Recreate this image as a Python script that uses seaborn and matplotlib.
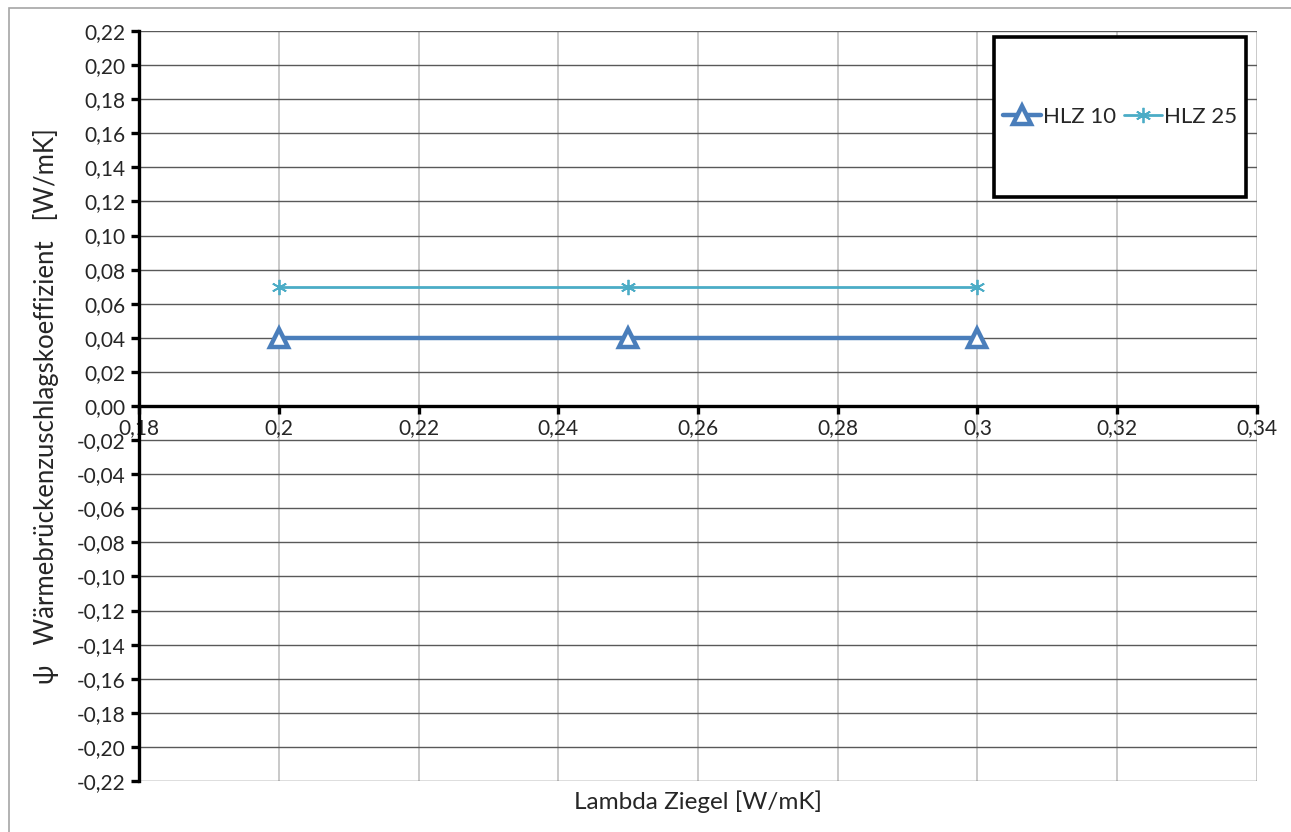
import numpy as np
import pandas as pd
import seaborn as sns
import matplotlib.pyplot as plt
from matplotlib.patches import Rectangle
from matplotlib.ticker import FixedLocator, FuncFormatter

# data
lambda_ziegel = [0.2, 0.25, 0.3]
hlz10 = [0.04, 0.04, 0.04]
hlz25 = [0.07, 0.07, 0.07]
x_ticks = [0.18, 0.20, 0.22, 0.24, 0.26, 0.28, 0.30, 0.32, 0.34]
x_tick_labels = ['0,18', '0,2', '0,22', '0,24', '0,26', '0,28', '0,3', '0,32', '0,34']
y_ticks = np.round(np.arange(-0.22, 0.2201, 0.02), 2)

df = pd.DataFrame({
    'lambda': lambda_ziegel * 2,
    'psi': hlz10 + hlz25,
    'serie': ['HLZ 10'] * 3 + ['HLZ 25'] * 3,
})

sns.set_theme(style='white')
plt.rcParams['font.family'] = ['Lato', 'DejaVu Sans']

fig = plt.figure(figsize=(12.91, 8.32), dpi=100)
ax = fig.add_axes([139 / 1291, 1 - 781 / 832, (1257 - 139) / 1291, (781 - 31) / 832])

# outer border (cropped at right/bottom like in the screenshot)
fig.patches.append(Rectangle((9 / 1291, -0.05), 1.2, 1 - 8 / 832 + 0.05, transform=fig.transFigure,
                             fill=False, edgecolor='#a6a6a6', linewidth=1.2))

ax.set_xlim(0.18, 0.34)
ax.set_ylim(-0.22, 0.22)

# gridlines
for y in y_ticks:
    ax.axhline(y, color='#595959', linewidth=1.0, zorder=0.5)
for x in x_ticks[1:]:
    ax.axvline(x, color='#c0c0c0', linewidth=1.2, zorder=0.4)

sns.lineplot(data=df[df.serie == 'HLZ 10'], x='lambda', y='psi', ax=ax, color='#4a7ebb',
             linewidth=3.2, marker='^', markersize=13, markerfacecolor='white',
             markeredgecolor='#4a7ebb', markeredgewidth=3.2, label='HLZ 10', zorder=3)
sns.lineplot(data=df[df.serie == 'HLZ 25'], x='lambda', y='psi', ax=ax, color='#4bacc6',
             linewidth=2.0, marker=(6, 2, 0), markersize=11, markeredgecolor='#4bacc6',
             markeredgewidth=1.3, label='HLZ 25', zorder=3)

ax.spines['top'].set_visible(False)
ax.spines['right'].set_visible(False)
ax.spines['left'].set_linewidth(2.4)
ax.spines['left'].set_color('black')
ax.spines['bottom'].set_position(('data', 0))
ax.spines['bottom'].set_linewidth(2.4)
ax.spines['bottom'].set_color('black')

ax.xaxis.set_major_locator(FixedLocator(x_ticks))
ax.set_xticklabels(x_tick_labels)
ax.yaxis.set_major_locator(FixedLocator(y_ticks))
ax.yaxis.set_major_formatter(FuncFormatter(lambda v, p: f'{v:.2f}'.replace('.', ',').replace('-0,00', '0,00')))
ax.tick_params(axis='x', direction='out', length=6, width=2.4, color='black', labelsize=15, pad=3)
ax.tick_params(axis='y', direction='out', length=6, width=2.4, color='black', labelsize=15, pad=4)
ax.xaxis.set_ticks_position('bottom')
ax.yaxis.set_ticks_position('left')

ax.set_xlabel('Lambda Ziegel [W/mK]', fontsize=17.5)
ax.xaxis.set_label_coords(0.5, -0.013, transform=ax.transAxes)
ax.xaxis.label.set_va('top')
ax.set_ylabel('\u03c8   Wärmebrückenzuschlagskoeffizient   [W/mK]', fontsize=18.5)
ax.yaxis.set_label_coords(-0.072, 0.5)
ax.grid(False)

# legend box
ax.add_patch(Rectangle((994 / 1291, 1 - 197 / 832), (1246 - 994) / 1291, (197 - 37) / 832,
                       transform=fig.transFigure, fill=True, facecolor='white',
                       edgecolor='black', linewidth=2.6, zorder=5, clip_on=False))
leg = ax.legend(loc='center', bbox_to_anchor=((994 + 1246) / 2 / 1291, 1 - 117 / 832),
                bbox_transform=fig.transFigure, ncol=2, frameon=False, fontsize=16,
                handlelength=1.7, handletextpad=0.1, columnspacing=0.35)
leg.set_zorder(6)

fig.savefig('out.png', dpi=100)
